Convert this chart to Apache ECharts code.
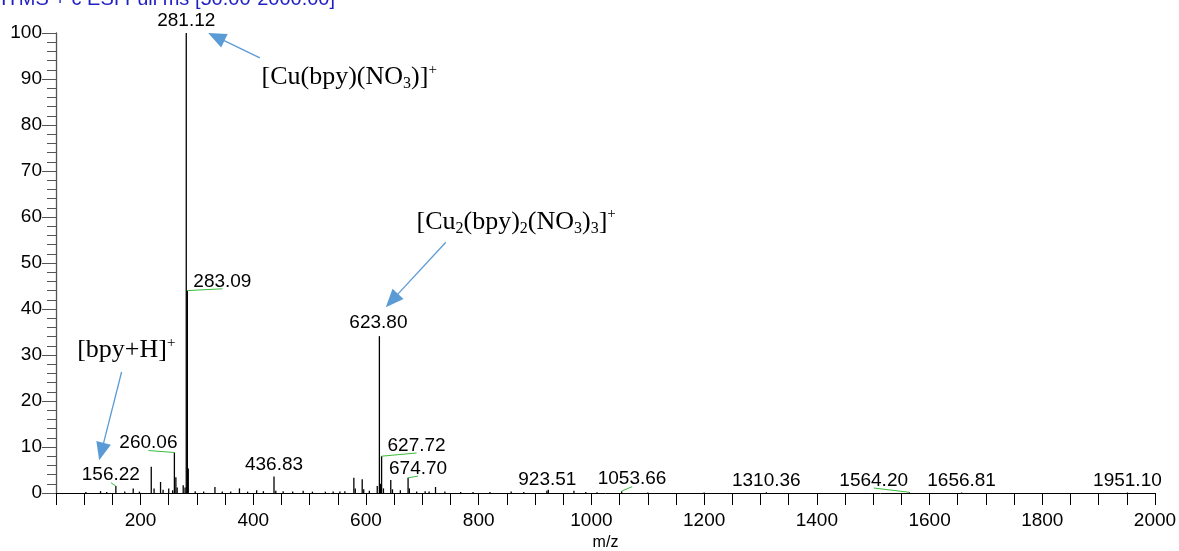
<!DOCTYPE html>
<html>
<head>
<meta charset="utf-8">
<script src="https://cdn.jsdelivr.net/npm/echarts@6/dist/echarts.min.js"></script>
<style>
  html, body { margin: 0; padding: 0; background: #fff; }
  #chart { width: 1179px; height: 551px; }
</style>
</head>
<body>
<div id="chart"></div>
<script>
// ESI mass spectrum: m/z and relative abundance (%) of the unlabelled sticks
const peakMz = [
  103, 129, 140, 172, 187, 198, 219, 224, 235.5, 240, 250, 257, 262.7, 265,
  275.7, 279, 284.7, 297, 312, 332, 345, 360, 375.5, 390, 406, 418, 440, 453,
  470, 488.6, 505, 528, 541.8, 553.7, 562.5, 578.5, 581, 593.3, 596, 606, 620,
  625.8, 631, 644, 647, 661, 677, 690, 705, 712, 723.4, 740, 768, 790, 820,
  857.6, 880, 921, 969, 990, 1010, 1100, 1200
];
const peakIntensity = [
  0.2, 0.4, 0.2, 0.3, 1.0, 0.3, 5.7, 1.0, 2.4, 0.7, 1.0, 0.6, 3.4, 1.2,
  1.7, 1.2, 5.3, 0.4, 0.3, 1.3, 0.3, 0.3, 1.0, 0.3, 0.6, 0.4, 0.5, 0.4,
  0.3, 0.5, 0.3, 0.3, 0.3, 0.3, 0.4, 3.3, 1.0, 3.0, 0.8, 0.5, 1.5,
  2.0, 1.0, 2.8, 0.8, 0.6, 1.0, 0.3, 0.4, 0.3, 1.3, 0.3, 0.2, 0.2, 0.2,
  0.3, 0.2, 0.5, 0.5, 0.2, 0.15, 0.1, 0.1
];

// Peaks annotated with their m/z value
const labelMz = [156.22, 260.06, 281.12, 283.09, 436.83, 623.80, 627.72, 674.70,
                 923.51, 1053.66, 1310.36, 1564.20, 1656.81, 1951.10];
const labelIntensity = [1.5, 8.8, 100, 44.0, 3.6, 34.1, 8.0, 3.3,
                        0.7, 0.4, 0.15, 0.15, 0.1, 0.1];

// Axis tick values
const xTickValues = [];
for (let v = 50; v <= 2000; v += 50) xTickValues.push(v);
const xLabelValues = [200, 400, 600, 800, 1000, 1200, 1400, 1600, 1800, 2000];

// Ion assignments
const ionText = [
  '{t|[Cu(bpy)(NO}{s|3}{t|)]}{p|+}',
  '{t|[Cu}{s|2}{t|(bpy)}{s|2}{t|(NO}{s|3}{t|)}{s|3}{t|]}{p|+}',
  '{t|[bpy+H]}{p|+}'
];

// ---- layout settings (label nudges in px, annotation anchors in data units) ----
const labelShift = [[-5, -11], [-26, -9.5], [0, -12], [35, -9.3], [0, -12], [-1, -13],
                    [35, -10.7], [10, -9.2], [-1, -10.5], [10.4, -12], [0, -11.5],
                    [-35.7, -11.8], [0, -11.5], [0, -11.5]];
const ionTextAt = [[414.7, 90.4], [689.7, 58.9], [87.6, 31.0]];
const ionArrowFrom = [[411.7, 94.6], [741.7, 54.5], [166.4, 26.3]];
const ionArrowTo = [[320, 100.0], [635.2, 40.4], [126.6, 7.1]];

const SANS = 'Liberation Sans, Arial, sans-serif';
const SERIF = 'Liberation Serif, Times New Roman, serif';

const sticks = peakMz.map((m, i) => [m, peakIntensity[i]])
  .concat(labelMz.map((m, i) => [m, labelIntensity[i]]))
  .sort((a, b) => a[0] - b[0]);

const chart = echarts.init(document.getElementById('chart'), null, { renderer: 'canvas' });

chart.setOption({
  animation: false,
  backgroundColor: '#fff',
  grid: { left: 56, right: 24, top: 33, bottom: 58, containLabel: false, outerBoundsMode: 'none' },
  graphic: [{
    type: 'text',
    x: 1, y: -1,
    silent: true,
    style: {
      text: 'ITMS + c ESI Full ms [50.00-2000.00]',
      fill: '#1f1fc4',
      font: '20px ' + SANS,
      textAlign: 'left', align: 'left',
      textVerticalAlign: 'middle', verticalAlign: 'middle'
    }
  }],
  xAxis: {
    type: 'value', min: 50, max: 2000,
    name: 'm/z', nameLocation: 'middle', nameGap: 41,
    nameTextStyle: { fontSize: 16, color: '#000', fontFamily: SANS },
    axisLine: { onZero: false, lineStyle: { color: '#000', width: 1 } },
    axisTick: { show: true, customValues: xTickValues, length: 12, lineStyle: { color: '#000', width: 1 } },
    axisLabel: {
      customValues: xLabelValues, margin: 18, fontSize: 19, color: '#000', fontFamily: SANS,
      formatter: function (v) { return String(v); }
    },
    splitLine: { show: false }
  },
  yAxis: {
    type: 'value', min: 0, max: 100, interval: 10,
    axisLine: { show: true, lineStyle: { color: '#555', width: 1.3 } },
    axisTick: { show: true, length: 14, lineStyle: { color: '#555', width: 1 } },
    minorTick: { show: true, splitNumber: 5, length: 9, lineStyle: { color: '#555', width: 1 } },
    axisLabel: { margin: 14, fontSize: 19, color: '#000', fontFamily: SANS },
    splitLine: { show: false }
  },
  series: [
    {
      // spectrum sticks
      type: 'custom',
      data: sticks,
      clip: false,
      renderItem: function (params, api) {
        const p0 = api.coord([api.value(0), 0]);
        const p1 = api.coord([api.value(0), api.value(1)]);
        return {
          type: 'line',
          shape: { x1: p0[0], y1: p0[1], x2: p1[0], y2: p1[1] },
          style: { stroke: '#000', lineWidth: 1.3 }
        };
      }
    },
    {
      // m/z labels with leader lines
      type: 'custom',
      data: labelMz.map((m, i) => [m, labelIntensity[i], i]),
      clip: false,
      renderItem: function (params, api) {
        const i = api.value(2);
        const mz = api.value(0);
        const top = api.coord([mz, api.value(1)]);
        const sh = labelShift[i];
        const cx = top[0] + sh[0];
        const cy = top[1] + sh[1];
        const children = [];
        if (Math.abs(sh[0]) > 4) {
          children.push({
            type: 'line',
            shape: { x1: top[0], y1: top[1], x2: cx, y2: cy + 7.5 },
            style: { stroke: '#3cbc3c', lineWidth: 1 }
          });
        }
        children.push({
          type: 'text',
          style: {
            text: mz.toFixed(2),
            x: cx, y: cy,
            fill: '#000',
            font: '19px ' + SANS,
            align: 'center', verticalAlign: 'middle'
          }
        });
        return { type: 'group', children: children };
      }
    },
    {
      // ion assignments with arrows
      type: 'custom',
      data: ionText.map((t, i) => [ionTextAt[i][0], ionTextAt[i][1], i]),
      clip: false,
      renderItem: function (params, api) {
        const i = api.value(2);
        const tp = api.coord(ionTextAt[i]);
        const a = api.coord(ionArrowFrom[i]);
        const b = api.coord(ionArrowTo[i]);
        const dx = b[0] - a[0], dy = b[1] - a[1];
        const len = Math.sqrt(dx * dx + dy * dy);
        const ux = dx / len, uy = dy / len;
        const headL = 18, headW = 7.5;
        const bx = b[0] - ux * headL, by = b[1] - uy * headL;
        const color = '#5b9bd5';
        return {
          type: 'group',
          children: [
            {
              type: 'line',
              shape: { x1: a[0], y1: a[1], x2: bx + ux * 2, y2: by + uy * 2 },
              style: { stroke: color, lineWidth: 1.3 }
            },
            {
              type: 'polygon',
              shape: { points: [[b[0], b[1]], [bx - uy * headW, by + ux * headW], [bx + uy * headW, by - ux * headW]] },
              style: { fill: color }
            },
            {
              type: 'text',
              style: {
                text: ionText[i],
                x: tp[0], y: tp[1],
                align: 'left', verticalAlign: 'middle',
                rich: {
                  t: { fontFamily: SERIF, fontSize: 26, lineHeight: 30, fill: '#000', verticalAlign: 'middle' },
                  s: { fontFamily: SERIF, fontSize: 16, lineHeight: 20, fill: '#000', verticalAlign: 'bottom' },
                  p: { fontFamily: SERIF, fontSize: 15, lineHeight: 20, fill: '#000', verticalAlign: 'top' }
                }
              }
            }
          ]
        };
      }
    }
  ]
});
</script>
</body>
</html>
